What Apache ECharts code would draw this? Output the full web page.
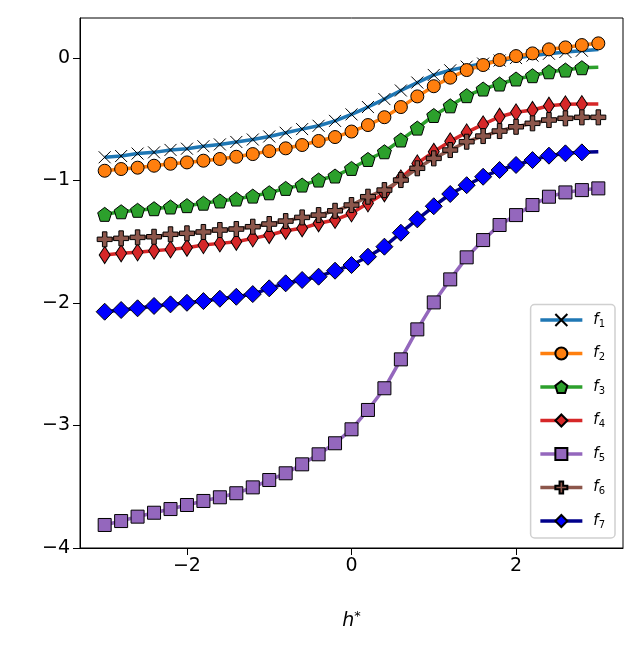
<!DOCTYPE html>
<html lang="en">
<head>
    <meta charset="UTF-8">
    <script src="https://cdn.jsdelivr.net/npm/echarts@6/dist/echarts.min.js"></script>
    <title>f curves</title>
    <style>
        html, body {margin: 0; padding: 0; background: #fff;}
    </style>
</head>
<body>
<div id="main" style="width: 642px;height: 656px;"></div>
</body>
</html>
<script>
    // h* values, one point every 0.2
    var hStar = [-3, -2.8, -2.6, -2.4, -2.2, -2, -1.8, -1.6, -1.4, -1.2, -1, -0.8, -0.6, -0.4, -0.2, 0,
        0.2, 0.4, 0.6, 0.8, 1, 1.2, 1.4, 1.6, 1.8, 2, 2.2, 2.4, 2.6, 2.8, 3];

    var f1 = [-0.81, -0.80, -0.78, -0.77, -0.75, -0.74, -0.72, -0.705, -0.685, -0.665, -0.64, -0.61, -0.58, -0.553, -0.513, -0.46,
        -0.40, -0.335, -0.265, -0.20, -0.138, -0.10, -0.07, -0.045, -0.02, 0.0, 0.02, 0.035, 0.05, 0.06, 0.07];
    var f2 = [-0.92, -0.906, -0.895, -0.879, -0.863, -0.852, -0.838, -0.824, -0.806, -0.784, -0.76, -0.737, -0.71, -0.677, -0.645, -0.60,
        -0.547, -0.483, -0.40, -0.313, -0.23, -0.16, -0.098, -0.057, -0.016, 0.016, 0.038, 0.071, 0.087, 0.106, 0.12];
    var f3 = [-1.276, -1.255, -1.243, -1.230, -1.216, -1.205, -1.185, -1.167, -1.151, -1.127, -1.10, -1.064, -1.037, -0.996, -0.963, -0.901,
        -0.828, -0.765, -0.669, -0.572, -0.469, -0.39, -0.307, -0.253, -0.212, -0.171, -0.144, -0.112, -0.098, -0.079, -0.076];
    var f4 = [-1.608, -1.594, -1.586, -1.573, -1.562, -1.549, -1.527, -1.513, -1.50, -1.472, -1.445, -1.41, -1.39, -1.349, -1.322, -1.268,
        -1.186, -1.104, -0.982, -0.86, -0.765, -0.68, -0.607, -0.541, -0.479, -0.443, -0.424, -0.389, -0.378, -0.376, -0.376];
    var f5 = [-3.812, -3.780, -3.744, -3.712, -3.682, -3.649, -3.616, -3.586, -3.553, -3.505, -3.445, -3.390, -3.317, -3.235, -3.145, -3.031,
        -2.873, -2.696, -2.46, -2.215, -1.995, -1.807, -1.627, -1.486, -1.363, -1.282, -1.20, -1.132, -1.097, -1.078, -1.064];
    var f6 = [-1.480, -1.472, -1.464, -1.459, -1.439, -1.431, -1.420, -1.404, -1.396, -1.377, -1.355, -1.331, -1.301, -1.282, -1.247, -1.20,
        -1.132, -1.078, -0.996, -0.90, -0.819, -0.751, -0.683, -0.637, -0.596, -0.561, -0.533, -0.506, -0.492, -0.484, -0.484];
    var f7 = [-2.071, -2.057, -2.043, -2.024, -2.011, -1.998, -1.984, -1.965, -1.949, -1.927, -1.88, -1.839, -1.812, -1.785, -1.736, -1.69,
        -1.622, -1.54, -1.426, -1.317, -1.21, -1.11, -1.038, -0.969, -0.914, -0.873, -0.833, -0.797, -0.778, -0.770, -0.765];

    var xTicks = [-2, 0, 2];
    var yTicks = [-4, -3, -2, -1, 0];

    // marker shapes
    var symX = 'path://M0,0L10,10M10,0L0,10';
    var symPentagon = 'path://M0,-10L9.51,-3.09L5.88,8.09L-5.88,8.09L-9.51,-3.09Z';
    var symThinDiamond = 'path://M0,-10L6,0L0,10L-6,0Z';
    var symPlus = 'path://M-3,-10L3,-10L3,-3L10,-3L10,3L3,3L3,10L-3,10L-3,3L-10,3L-10,-3L-3,-3Z';

    function minus(v) {
        return v < 0 ? '\u2212' + Math.abs(v) : String(v);
    }

    // lastMarker=false -> no marker on the x=3 point (line still goes there)
    function pts(ys, lastMarker) {
        var out = [];
        for (var i = 0; i < hStar.length; i++) {
            if (i == hStar.length - 1 && !lastMarker) {
                out.push({value: [hStar[i], ys[i]], symbol: 'none'});
            } else {
                out.push([hStar[i], ys[i]]);
            }
        }
        return out;
    }

    function line(name, ys, lastMarker, lineColor, symbol, size, fill, edge) {
        return {
            name: name,
            type: 'line',
            data: pts(ys, lastMarker),
            symbol: symbol,
            symbolSize: size,
            showAllSymbol: true,
            lineStyle: {color: lineColor, width: 3.5},
            itemStyle: {color: fill, borderColor: edge, borderWidth: 1},
            emphasis: {disabled: true}
        };
    }

    var myChart = echarts.init(document.getElementById('main'));
    var font = 'DejaVu Sans';

    var option = {
        animation: false,
        textStyle: {fontFamily: font, color: '#000'},
        grid: {
            left: 80, right: 19, top: 18, bottom: 108,
            show: true, borderColor: '#000', borderWidth: 1
        },
        legend: {
            orient: 'vertical',
            right: 27,
            bottom: 118,
            itemWidth: 42,
            itemHeight: 15,
            itemGap: 17,
            padding: [8, 10, 8, 8],
            backgroundColor: 'rgba(255,255,255,0.8)',
            borderColor: '#d0d0d0',
            borderWidth: 1.5,
            borderRadius: 4,
            lineStyle: {width: 3.5},
            formatter: function (name) {
                return '{f|f}{s|' + name.slice(1) + '}';
            },
            textStyle: {
                rich: {
                    f: {fontFamily: font, fontStyle: 'italic', fontSize: 15, color: '#000', padding: [0, 0, 0, 6]},
                    s: {fontFamily: font, fontSize: 10, color: '#000', verticalAlign: 'bottom', padding: [8, 0, 0, 0]}
                }
            },
            data: ['f1', 'f2', 'f3', 'f4', 'f5', 'f6', 'f7']
        },
        xAxis: {
            type: 'value',
            min: -3.3,
            max: 3.3,
            name: '{i|h}{s|*}',
            nameLocation: 'middle',
            nameGap: 62,
            nameTextStyle: {
                rich: {
                    i: {fontFamily: font, fontStyle: 'italic', fontSize: 19, color: '#000'},
                    s: {fontFamily: font, fontSize: 13, color: '#000', verticalAlign: 'top', padding: [0, 0, 10, 0]}
                }
            },
            axisLine: {onZero: false, lineStyle: {color: '#000', width: 1}},
            axisTick: {show: true, length: 7, lineStyle: {color: '#000'}, customValues: xTicks},
            axisLabel: {
                color: '#000', fontSize: 19, margin: 9, customValues: xTicks,
                formatter: minus
            },
            splitLine: {show: false}
        },
        yAxis: {
            type: 'value',
            min: -4,
            max: 0.327,
            axisLine: {onZero: false, lineStyle: {color: '#000', width: 1}},
            axisTick: {show: true, length: 7, lineStyle: {color: '#000'}, customValues: yTicks},
            axisLabel: {
                color: '#000', fontSize: 19, margin: 10, customValues: yTicks,
                formatter: minus
            },
            splitLine: {show: false}
        },
        series: [
            line('f1', f1, false, '#1f77b4', symX, 12, '#000', '#000'),
            line('f2', f2, true, '#ff7f0e', 'circle', 13, '#ff7f0e', '#000'),
            line('f3', f3, false, '#2ca02c', symPentagon, 14, '#2ca02c', '#000'),
            line('f4', f4, false, '#d62728', symThinDiamond, [11, 17], '#d62728', '#000'),
            line('f5', f5, true, '#9467bd', 'rect', 13, '#9467bd', '#000'),
            line('f6', f6, true, '#8c564b', symPlus, 15, '#8c564b', '#000'),
            line('f7', f7, false, '#00008b', 'diamond', 17, '#0000ff', '#000')
        ]
    };
    myChart.setOption(option);
</script>
